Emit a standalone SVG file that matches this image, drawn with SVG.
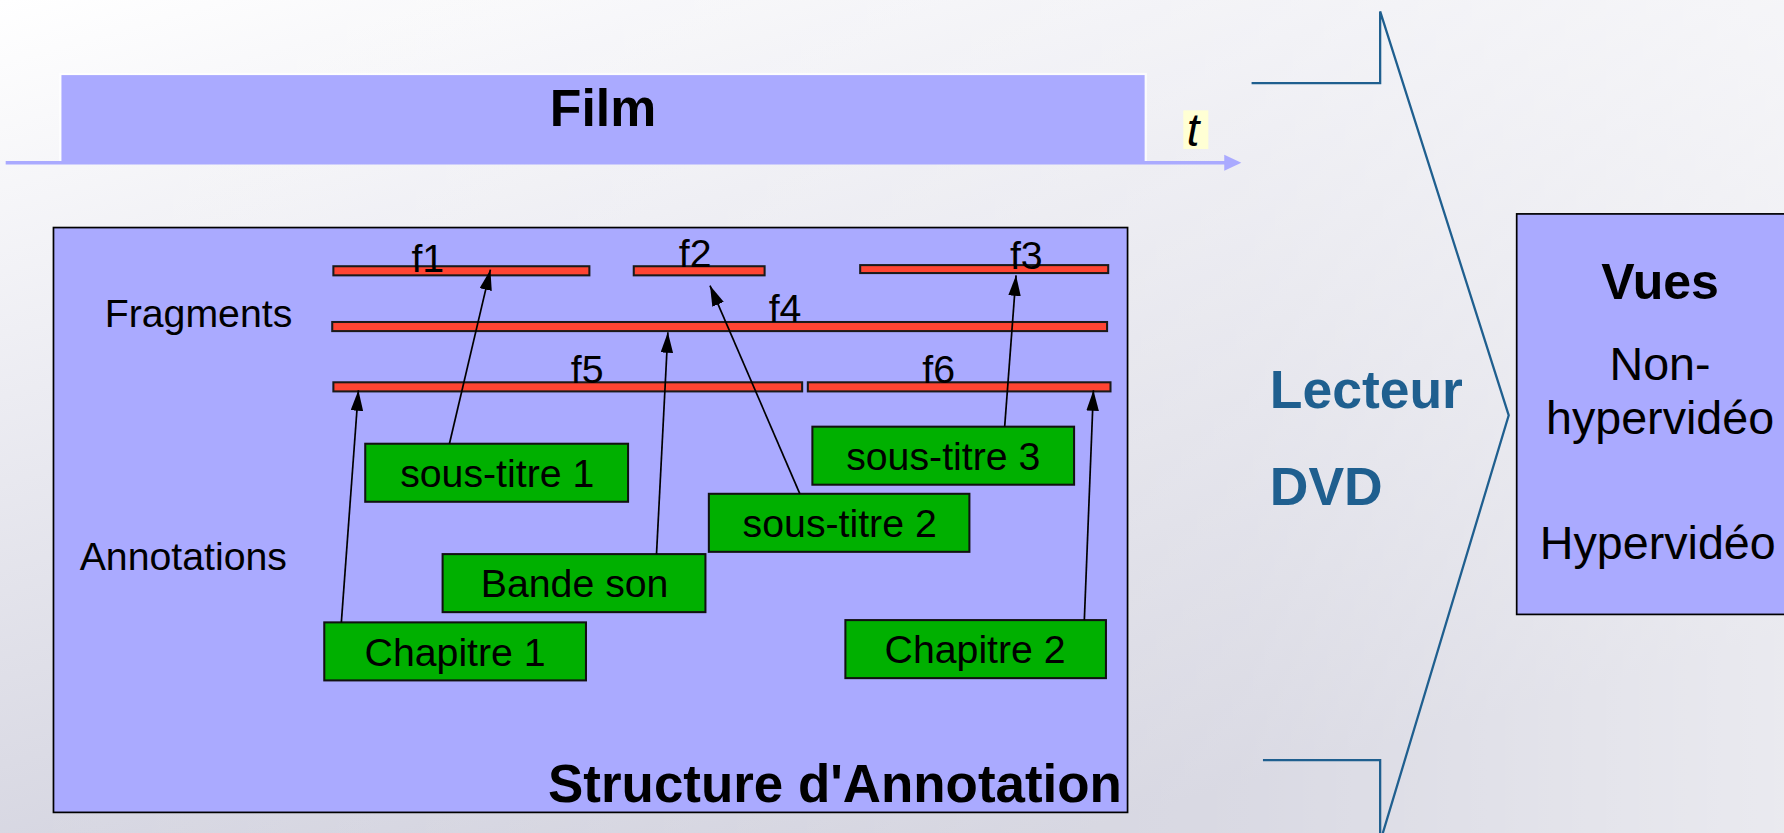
<svg xmlns="http://www.w3.org/2000/svg" width="1784" height="833" viewBox="0 0 1784 833">
<defs>
<linearGradient id="bg" x1="0" y1="0" x2="0.6" y2="1">
<stop offset="0" stop-color="#ffffff"/>
<stop offset="0.35" stop-color="#ececf2"/>
<stop offset="1" stop-color="#cacad8"/>
</linearGradient>
<linearGradient id="bg2" x1="0" y1="0" x2="1" y2="0">
<stop offset="0" stop-color="#ffffff" stop-opacity="0"/>
<stop offset="0.7" stop-color="#ffffff" stop-opacity="0.3"/>
<stop offset="1" stop-color="#ffffff" stop-opacity="0.6"/>
</linearGradient>
<marker id="ah" viewBox="0 0 10 10" refX="10" refY="5" markerWidth="18" markerHeight="11" markerUnits="userSpaceOnUse" orient="auto" preserveAspectRatio="none">
<path d="M0,0 L10,5 L0,10 z" fill="#000"/>
</marker>
<style>
.blue{fill:#aaaaff}
.frag{fill:#ff4433;stroke:#1a1a1a;stroke-width:1.8}
.ann{fill:#00b000;stroke:#111;stroke-width:1.8}
.t{font-family:"Liberation Sans",Arial,sans-serif;fill:#000}
.lbl{font-size:34.5px}
.lnk{stroke:#000;stroke-width:1.5;fill:none;marker-end:url(#ah)}
.dvd{font-family:"Liberation Sans",Arial,sans-serif;font-weight:bold;font-size:47px;fill:#1f5f8f}
</style>
</defs>
<rect width="1784" height="833" fill="url(#bg)"/>
<rect width="1784" height="833" fill="url(#bg2)"/>
<g transform="scale(1.1378)">
<g id="film">
<rect x="52" y="64" width="956" height="79" fill="#ffffff" opacity="0.7"/>
<rect x="54" y="66" width="952" height="76" class="blue"/>
<text x="530" y="111" class="t" font-size="45.5" font-weight="bold" text-anchor="middle">Film</text>
</g>
<g id="axis">
<line x1="5" y1="143" x2="1080" y2="143" stroke="#aaaaff" stroke-width="3"/>
<path d="M1076,136 L1091,143 L1076,150 z" fill="#aaaaff"/>
<rect x="1040" y="97" width="22" height="34" fill="#ffffd4"/>
<text x="1043" y="128" class="t" font-size="40" font-style="italic">t</text>
</g>

<g id="structure">
<rect x="47" y="200" width="944" height="514" class="blue" stroke="#000" stroke-width="1.5"/>
<text x="986" y="705" class="t" font-size="46.5" font-weight="bold" text-anchor="end">Structure d'Annotation</text>
<text x="92" y="287" class="t lbl">Fragments</text>
<text x="70" y="501" class="t lbl">Annotations</text>
</g>

<g id="f1"><rect x="293" y="234" width="225" height="8" class="frag"/><text x="376" y="239" class="t lbl" text-anchor="middle">f1</text></g>
<g id="f2"><rect x="557" y="234" width="115" height="8" class="frag"/><text x="611" y="235" class="t lbl" text-anchor="middle">f2</text></g>
<g id="f3"><rect x="756" y="233" width="218" height="7" class="frag"/><text x="902" y="236" class="t lbl" text-anchor="middle">f3</text></g>
<g id="f4"><rect x="292" y="283" width="681" height="8" class="frag"/><text x="690" y="283" class="t lbl" text-anchor="middle">f4</text></g>
<g id="f5"><rect x="293" y="336" width="412" height="8" class="frag"/><text x="516" y="337" class="t lbl" text-anchor="middle">f5</text></g>
<g id="f6"><rect x="710" y="336" width="266" height="8" class="frag"/><text x="825" y="337" class="t lbl" text-anchor="middle">f6</text></g>

<g id="st1"><rect x="321" y="390" width="231" height="51" class="ann"/><text x="437" y="428" class="t lbl" text-anchor="middle">sous-titre 1</text></g>
<g id="st3"><rect x="714" y="375" width="230" height="51" class="ann"/><text x="829" y="413" class="t lbl" text-anchor="middle">sous-titre 3</text></g>
<g id="st2"><rect x="623" y="434" width="229" height="51" class="ann"/><text x="738" y="472" class="t lbl" text-anchor="middle">sous-titre 2</text></g>
<g id="bande"><rect x="389" y="487" width="231" height="51" class="ann"/><text x="505" y="525" class="t lbl" text-anchor="middle">Bande son</text></g>
<g id="ch1"><rect x="285" y="547" width="230" height="51" class="ann"/><text x="400" y="585" class="t lbl" text-anchor="middle">Chapitre 1</text></g>
<g id="ch2"><rect x="743" y="545" width="229" height="51" class="ann"/><text x="857" y="583" class="t lbl" text-anchor="middle">Chapitre 2</text></g>

<g id="connectors">
<line x1="395" y1="390" x2="431" y2="237" class="lnk"/>
<line x1="577" y1="487" x2="587" y2="292" class="lnk"/>
<line x1="703" y1="434" x2="624" y2="251" class="lnk"/>
<line x1="883" y1="375" x2="893" y2="242" class="lnk"/>
<line x1="300" y1="547" x2="315" y2="343" class="lnk"/>
<line x1="953" y1="545" x2="961" y2="343" class="lnk"/>
</g>

<g id="lecteur">
<polyline points="1100,73 1213,73 1213,10 1326,365 1213,740" fill="none" stroke="#1f5f8f" stroke-width="2"/>
<polyline points="1110,668 1213,668 1213,740" fill="none" stroke="#1f5f8f" stroke-width="2"/>
<text x="1116" y="359" class="dvd">Lecteur</text>
<text x="1116" y="444" class="dvd">DVD</text>
</g>

<g id="vues">
<rect x="1333" y="188" width="460" height="352" class="blue" stroke="#000" stroke-width="1.5"/>
<text x="1459" y="263" class="t" font-size="44" font-weight="bold" text-anchor="middle">Vues</text>
<text x="1459" y="334" class="t" font-size="41" text-anchor="middle">Non-</text>
<text x="1459" y="381" class="t" font-size="41" text-anchor="middle">hypervidéo</text>
<text x="1457" y="491" class="t" font-size="41" text-anchor="middle">Hypervidéo</text>
</g>
</g>
</svg>
